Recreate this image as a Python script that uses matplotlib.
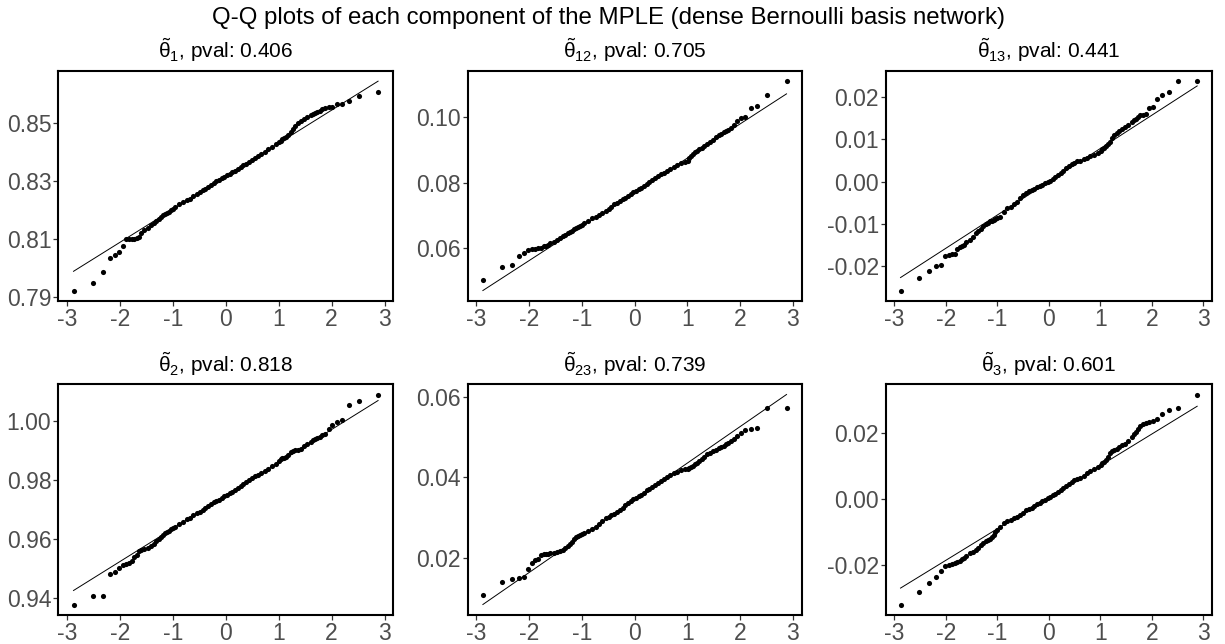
import matplotlib
matplotlib.use("Agg")
import matplotlib.pyplot as plt
from statistics import NormalDist

plt.rcParams["font.family"] = ["Liberation Sans", "DejaVu Sans"]
plt.rcParams["mathtext.fontset"] = "custom"
plt.rcParams["mathtext.rm"] = "Liberation Sans"
plt.rcParams["mathtext.it"] = "Liberation Sans:italic"
plt.rcParams["axes.unicode_minus"] = False

n_sample = 250
ranks = (list(range(1, 15)) + list(range(16, 41, 2)) + list(range(43, 209, 5))
         + list(range(211, 236, 2)) + list(range(237, 251)))

theta1 = [0.7923, 0.7950, 0.7987, 0.8034, 0.8046, 0.8054, 0.8075, 0.8099, 0.8099, 0.8100,
          0.8101, 0.8103, 0.8108, 0.8122,
          0.81321, 0.81392, 0.81467, 0.81547, 0.81623, 0.81696, 0.81765, 0.81823, 0.81867,
          0.81900, 0.81942, 0.81992, 0.82030,
          0.82095, 0.82192, 0.82274, 0.82340, 0.82394, 0.82473, 0.82551, 0.82616, 0.82670,
          0.82732, 0.82783, 0.82853, 0.82921, 0.82980, 0.83027, 0.83085, 0.83142, 0.83198,
          0.83245, 0.83303, 0.83350, 0.83419, 0.83487, 0.83537, 0.83588, 0.83650, 0.83724,
          0.83799, 0.83867, 0.83926, 0.84010, 0.84096, 0.84178, 0.84275,
          0.8434, 0.8438, 0.8443, 0.8447, 0.8452, 0.8459, 0.8468, 0.8477, 0.8489, 0.8498,
          0.8507, 0.8514, 0.8519,
          0.8525, 0.8530, 0.8534, 0.8538, 0.8541, 0.8546, 0.8549, 0.8553, 0.8555, 0.8563,
          0.8566, 0.8575, 0.8593, 0.8606]

theta12 = [0.05018, 0.05413, 0.05484, 0.05767, 0.05848, 0.05949, 0.05970, 0.05980, 0.05990,
           0.06010, 0.06051, 0.06061, 0.06081, 0.06152,
           0.06202, 0.06257, 0.06317, 0.06362, 0.06413, 0.06452, 0.06497, 0.06531, 0.06571,
           0.06611, 0.06640, 0.06676, 0.06711,
           0.06762, 0.06841, 0.06906, 0.06956, 0.07004, 0.07068, 0.07140, 0.07200, 0.07268,
           0.07335, 0.07391, 0.07436, 0.07489, 0.07543, 0.07606, 0.07659, 0.07711, 0.07753,
           0.07795, 0.07849, 0.07891, 0.07955, 0.08018, 0.08083, 0.08149, 0.08206, 0.08255,
           0.08304, 0.08357, 0.08410, 0.08478, 0.08538, 0.08593, 0.08642,
           0.08663, 0.08744, 0.08825, 0.08886, 0.08937, 0.08977, 0.09018, 0.09058, 0.09109,
           0.09170, 0.09241, 0.09311, 0.09392,
           0.09443, 0.09494, 0.09544, 0.09575, 0.09615, 0.09666, 0.09767, 0.09878, 0.09970,
           0.10010, 0.10273, 0.10334, 0.10678, 0.11094]

theta13 = [-0.02573, -0.02282, -0.02118, -0.01992, -0.01976, -0.01749, -0.01741, -0.01710,
           -0.01702, -0.01584, -0.01545, -0.01529, -0.01506, -0.01435,
           -0.01388, -0.01310, -0.01216, -0.01161, -0.01114, -0.01059, -0.01004, -0.00973,
           -0.00941, -0.00925, -0.00918, -0.00886, -0.00863,
           -0.00839, -0.00729, -0.00635, -0.00590, -0.00535, -0.00475, -0.00392, -0.00314,
           -0.00259, -0.00227, -0.00196, -0.00165, -0.00133, -0.00102, -0.00071, -0.00039,
           -0.00016, 0.00016, 0.00055, 0.00110, 0.00165, 0.00212, 0.00259, 0.00314, 0.00369,
           0.00416, 0.00447, 0.00478, 0.00495, 0.00525, 0.00557, 0.00604, 0.00635, 0.00682,
           0.00729, 0.00761, 0.00800, 0.00839, 0.00886, 0.00941, 0.01020, 0.01098, 0.01153,
           0.01200, 0.01247, 0.01294, 0.01333,
           0.01412, 0.01451, 0.01482, 0.01529, 0.01561, 0.01576, 0.01592, 0.01733, 0.01749,
           0.01953, 0.02031, 0.02102, 0.02369, 0.02369]

theta2 = [0.93775, 0.94056, 0.94079, 0.94799, 0.94867, 0.95002, 0.95114, 0.95137, 0.95193,
          0.95238, 0.95373, 0.95452, 0.95587, 0.95621,
          0.95643, 0.95689, 0.95756, 0.95835, 0.95925, 0.96004, 0.96071, 0.96139, 0.96184,
          0.96229, 0.96274, 0.96319, 0.96364,
          0.96410, 0.96495, 0.96585, 0.96660, 0.96713, 0.96791, 0.96858, 0.96912, 0.96975,
          0.97046, 0.97116, 0.97185, 0.97232, 0.97280, 0.97326, 0.97383, 0.97439, 0.97495,
          0.97551, 0.97598, 0.97654, 0.97712, 0.97779, 0.97848, 0.97918, 0.97989, 0.98062,
          0.98116, 0.98173, 0.98221, 0.98294, 0.98379, 0.98459, 0.98544,
          0.98640, 0.98694, 0.98728, 0.98750, 0.98784, 0.98852, 0.98931, 0.98976, 0.98998,
          0.99009, 0.99054, 0.99133, 0.99201,
          0.99280, 0.99336, 0.99381, 0.99426, 0.99460, 0.99516, 0.99538, 0.99707, 0.99865,
          0.99966, 1.00011, 1.00540, 1.00653, 1.00889]

theta23 = [0.01079, 0.01386, 0.01461, 0.01485, 0.01519, 0.01726, 0.01876, 0.01950, 0.01967,
           0.02075, 0.02091, 0.02100, 0.02100, 0.02108,
           0.02125, 0.02149, 0.02166, 0.02191, 0.02241, 0.02282, 0.02332, 0.02398, 0.02473,
           0.02506, 0.02531, 0.02556, 0.02589,
           0.02600, 0.02656, 0.02712, 0.02763, 0.02832, 0.02917, 0.02972, 0.03013, 0.03054,
           0.03094, 0.03132, 0.03181, 0.03237, 0.03304, 0.03350, 0.03396, 0.03451, 0.03487,
           0.03522, 0.03568, 0.03614, 0.03671, 0.03717, 0.03766, 0.03804, 0.03844, 0.03895,
           0.03956, 0.04011, 0.04056, 0.04105, 0.04140, 0.04170, 0.04195,
           0.04207, 0.04232, 0.04257, 0.04282, 0.04315, 0.04357, 0.04398, 0.04456, 0.04506,
           0.04564, 0.04606, 0.04647, 0.04680,
           0.04722, 0.04747, 0.04780, 0.04813, 0.04855, 0.04888, 0.04954, 0.05029, 0.05095,
           0.05162, 0.05187, 0.05228, 0.05726, 0.05726]

theta3 = [-0.03186, -0.02814, -0.02533, -0.02352, -0.02181, -0.02030, -0.01990, -0.01970,
          -0.01940, -0.01910, -0.01859, -0.01799, -0.01769, -0.01709,
          -0.01628, -0.01588, -0.01538, -0.01467, -0.01397, -0.01317, -0.01256, -0.01226,
          -0.01196, -0.01156, -0.01085, -0.01005, -0.00935,
          -0.00836, -0.00733, -0.00674, -0.00620, -0.00588, -0.00540, -0.00473, -0.00408,
          -0.00345, -0.00302, -0.00261, -0.00211, -0.00162, -0.00113, -0.00065, -0.00016,
          0.00022, 0.00069, 0.00117, 0.00166, 0.00214, 0.00273, 0.00322, 0.00383, 0.00443,
          0.00516, 0.00559, 0.00594, 0.00641, 0.00699, 0.00781, 0.00845, 0.00904, 0.00977,
          0.01038, 0.01075, 0.01116, 0.01176, 0.01266, 0.01377, 0.01457, 0.01487, 0.01518,
          0.01578, 0.01618, 0.01658, 0.01759,
          0.01879, 0.01950, 0.02030, 0.02111, 0.02191, 0.02271, 0.02302, 0.02322, 0.02342,
          0.02402, 0.02573, 0.02683, 0.02754, 0.03156]

samples = [theta1, theta12, theta13, theta2, theta23, theta3]
subscripts = ["1", "12", "13", "2", "23", "3"]
pvals = ["0.406", "0.705", "0.441", "0.818", "0.739", "0.601"]
x_ticks = [-3, -2, -1, 0, 1, 2, 3]
y_ticks = [[0.79, 0.81, 0.83, 0.85], [0.06, 0.08, 0.10], [-0.02, -0.01, 0.00, 0.01, 0.02],
           [0.94, 0.96, 0.98, 1.00], [0.02, 0.04, 0.06], [-0.02, 0.00, 0.02]]
main_title = "Q-Q plots of each component of the MPLE (dense Bernoulli basis network)"

W, H = 1225, 644
# panel boxes in pixels: left, right, top, bottom
cols = [(58.3, 393.3), (467.7, 801.7), (885.7, 1212.0)]
rows = [(70.7, 301.0), (384.0, 615.0)]

nd = NormalDist()
theo = [nd.inv_cdf((r - 0.5) / n_sample) for r in ranks]
z25 = nd.inv_cdf(0.25)
z75 = nd.inv_cdf(0.75)
i25 = ranks.index(63)
i75 = ranks.index(188)

fig = plt.figure(figsize=(W / 100, H / 100), dpi=100)

for k, ys in enumerate(samples):
    l, r = cols[k % 3]
    t, b = rows[k // 3]
    ax = fig.add_axes([l / W, 1 - b / H, (r - l) / W, (b - t) / H])

    # qq line through the quartiles
    slope = (ys[i75] - ys[i25]) / (z75 - z25)
    inter = ys[i25] - slope * z25
    x0, x1 = theo[0], theo[-1]
    ax.plot([x0, x1], [inter + slope * x0, inter + slope * x1], color="black", lw=0.7)
    ax.plot(theo, ys, linestyle="none", marker="o", markersize=3.7,
            markerfacecolor="black", markeredgewidth=0)

    ax.set_xticks(x_ticks)
    ax.set_xticklabels([str(v) for v in x_ticks])
    ax.set_yticks(y_ticks[k])
    ax.set_yticklabels(["%.2f" % v for v in y_ticks[k]])
    ax.margins(0.05)
    ax.tick_params(direction="out", length=3.5, width=0.9, color="#333333",
                   labelcolor="#4D4D4D", labelsize=16.5, pad=1.5)
    for s in ax.spines.values():
        s.set_linewidth(1.5)
        s.set_color("black")
    ax.set_title(r"$\tilde{\mathrm{\theta}}_{%s}$, pval: %s" % (subscripts[k], pvals[k]),
                 fontsize=15, pad=9)

fig.text(608 / W, 1 - 24 / H, main_title, ha="center", va="baseline", fontsize=17.3)

fig.savefig("out.png", dpi=100)
